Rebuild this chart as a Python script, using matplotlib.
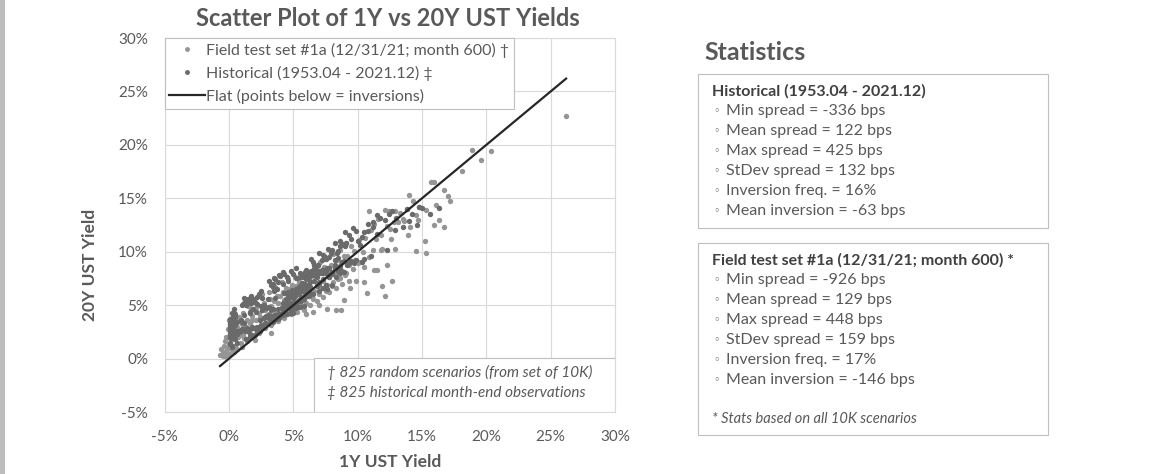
import numpy as np
import matplotlib.pyplot as plt
from matplotlib.patches import Rectangle
from matplotlib.lines import Line2D
from matplotlib.ticker import FuncFormatter

plt.rcParams['font.family'] = ['Lato', 'DejaVu Sans']

W, H = 1171, 474
GREY_TXT = '#595959'

# (1Y, 20Y) yields in %, field test scenarios
FIELD = [
    (-0.7, 0.3), (-0.5, 0.5), (-0.6, 0.9), (-0.3, 0.2), (-0.4, 1.2), (-0.2, 0.7), (-0.3, 1.6), (-0.1, 1.0),
    (-0.2, 2.0), (0.0, 0.4), (0.0, 1.4), (0.1, 2.4), (-0.1, 2.8), (0.2, 0.8), (0.2, 3.2), (0.3, 1.8),
    (0.0, 3.6), (0.4, 2.6), (0.3, 4.0), (0.5, 1.2), (0.6, 3.0), (0.5, 3.6), (0.7, 2.0), (0.8, 2.6),
    (0.9, 1.5), (1.0, 3.2), (0.8, 3.9), (1.1, 2.3), (1.2, 1.9), (1.3, 3.0),
    (0.4, 0.6), (-0.5, 0.2), (-0.2, 0.3), (0.6, 0.9), (1.0, 1.1), (0.3, 1.0),
    (1.0, 2.2), (1.2, 3.0), (1.4, 3.6), (1.1, 4.3), (1.5, 4.9), (1.5, 2.6), (1.4, 1.6),
    (1.6, 3.3), (1.8, 4.0), (1.7, 4.6), (1.8, 2.2), (2.0, 2.9), (1.6, 5.1), (1.8, 3.6),
    (2.1, 3.6), (2.3, 4.3), (2.2, 5.0), (2.3, 2.4), (2.5, 3.1), (2.1, 4.7), (2.4, 3.9),
    (2.6, 3.8), (2.8, 4.5), (2.7, 5.2), (2.8, 2.9), (3.0, 3.4), (2.6, 6.0), (3.0, 4.8),
    (3.1, 4.2), (3.3, 4.9), (3.2, 5.6), (3.3, 3.1), (3.5, 3.7), (3.1, 6.2), (3.5, 5.4),
    (3.6, 4.5), (3.8, 5.2), (3.7, 5.9), (3.8, 3.5), (4.0, 4.1), (3.6, 6.7), (4.0, 5.9),
    (4.1, 4.8), (4.3, 5.5), (4.2, 6.2), (4.3, 3.8), (4.5, 4.4), (4.1, 7.2), (4.4, 6.6),
    (4.6, 5.1), (4.8, 5.8), (4.7, 6.5), (4.8, 4.2), (5.0, 4.6), (4.6, 7.4), (4.9, 6.9),
    (5.1, 5.4), (5.3, 6.1), (5.2, 6.8), (5.3, 4.4), (5.5, 5.0), (5.1, 7.6), (5.4, 7.2),
    (5.6, 5.7), (5.8, 6.4), (5.7, 7.1), (5.8, 4.5), (6.0, 5.2), (5.6, 7.8), (5.9, 7.0),
    (6.1, 6.0), (6.3, 6.7), (6.2, 7.4), (6.3, 5.0), (6.5, 5.6), (6.1, 8.1), (6.4, 7.7),
    (6.6, 6.3), (6.8, 7.0), (6.7, 7.7), (6.8, 5.4), (7.0, 6.0), (6.6, 8.5), (6.9, 8.0),
    (7.1, 6.6), (7.3, 7.3), (7.2, 8.0), (7.3, 5.8), (7.5, 6.3), (7.1, 9.0), (7.4, 8.6),
    (7.6, 6.9), (7.8, 7.6), (7.7, 8.3), (7.8, 6.2), (8.0, 6.8), (7.6, 9.4), (7.9, 8.8),
    (8.1, 7.2), (8.3, 7.9), (8.2, 8.6), (8.3, 6.6), (8.5, 7.4), (8.1, 9.8), (8.4, 9.2),
    (8.6, 7.5), (8.8, 8.2), (8.7, 9.0), (8.8, 7.0), (9.0, 7.8), (8.6, 10.2), (8.9, 9.6),
    (9.1, 8.0), (9.3, 8.8), (9.2, 9.6), (9.3, 7.3), (9.1, 10.8), (9.5, 10.5),
    (9.6, 8.4), (9.8, 9.2), (9.7, 10.1), (10.0, 8.9), (10.1, 11.1), (10.6, 11.3),
    (10.2, 9.0), (10.4, 10.0), (10.5, 8.6), (10.9, 9.5), (10.9, 13.8), (11.0, 12.0),
    (11.2, 10.2), (11.4, 11.2), (11.3, 12.6), (11.6, 13.1), (11.8, 10.2), (11.5, 8.3), (11.9, 10.3),
    (12.1, 13.9), (12.3, 12.4), (12.5, 12.1), (12.4, 13.8), (12.9, 13.8), (12.9, 10.3), (12.3, 8.8),
    (12.7, 7.3), (11.9, 6.8), (12.1, 5.9), (12.6, 11.2), (11.8, 11.6), (12.8, 12.8),
    (10.7, 6.1), (9.9, 7.3), (10.5, 7.2), (11.3, 8.3), (8.7, 4.5), (8.3, 4.5), (7.6, 4.6), (6.5, 4.4),
    (6.0, 4.2), (3.3, 2.4), (2.0, 1.75), (7.0, 5.0), (9.4, 6.6), (8.9, 5.5),
    (13.3, 13.6), (13.8, 14.0), (14.0, 15.3), (14.3, 14.7), (13.6, 12.9), (14.5, 13.4), (14.5, 10.1),
    (15.3, 9.9), (15.2, 11.0), (15.3, 13.9), (15.9, 12.5), (16.1, 14.4), (16.3, 13.0), (16.7, 12.3),
    (15.7, 16.5), (15.9, 16.5), (16.7, 15.8), (17.0, 15.2), (17.2, 14.7), (14.8, 14.2), (13.1, 12.8),
    (13.9, 11.6), (14.7, 13.0), (13.5, 13.1), (14.1, 12.3),
    (18.1, 17.6), (18.9, 19.5), (19.6, 18.6), (20.4, 19.4), (26.2, 22.7),
]

# (1Y, 20Y) yields in %, historical month-ends 1953-2021
HIST = [
    (2.2, 3.0), (1.8, 3.0), (1.0, 2.7), (0.9, 2.6), (1.2, 2.8), (1.8, 2.9), (2.3, 3.0), (2.6, 3.0),
    (3.0, 3.2), (3.4, 3.4), (3.3, 3.6), (3.7, 3.7), (3.9, 3.8), (3.4, 3.6), (1.2, 3.3), (1.0, 3.4),
    (2.4, 3.6), (3.2, 3.8), (3.8, 4.0), (4.5, 4.2), (5.0, 4.3), (4.8, 4.3),
    (2.5, 3.1), (2.0, 2.9), (1.5, 2.8), (2.8, 3.3), (3.6, 3.8), (4.2, 4.1), (3.2, 4.0), (2.7, 3.8),
    (3.5, 4.1), (4.1, 4.3),
    (4.4, 4.2), (3.4, 4.0), (3.0, 3.9), (2.8, 3.9), (2.9, 4.0), (3.0, 4.1), (3.0, 3.9), (2.9, 3.9),
    (3.1, 4.0), (3.3, 4.0), (3.6, 4.1), (3.8, 4.2), (3.9, 4.2), (4.0, 4.2),
    (4.3, 4.3), (4.8, 4.5), (5.0, 4.6), (5.5, 4.8), (5.8, 4.9), (5.2, 4.7), (4.3, 4.6), (4.8, 5.0),
    (5.5, 5.4), (5.6, 5.4), (5.4, 5.5), (5.9, 5.8), (6.5, 6.0), (7.0, 6.3), (7.6, 6.5), (8.0, 6.9),
    (5.3, 4.8), (4.9, 5.1), (5.8, 5.6), (6.2, 5.9), (7.3, 6.6), (6.8, 6.8), (5.9, 6.5), (4.6, 6.2),
    (4.9, 6.4), (5.8, 6.6),
    (7.5, 6.9), (7.0, 7.0), (6.3, 6.7), (5.5, 6.3), (4.3, 6.1), (5.3, 6.2), (5.6, 6.4), (4.8, 6.1),
    (4.5, 6.0), (5.0, 6.1), (5.5, 6.2), (6.2, 6.9), (7.0, 7.2), (8.3, 7.6), (7.3, 7.4), (7.8, 7.6),
    (8.9, 8.1), (8.5, 8.2), (7.3, 8.0),
    (6.6, 7.3), (8.0, 7.9), (8.6, 8.0), (7.0, 8.1), (6.6, 8.4), (5.8, 7.8), (6.2, 7.7), (6.8, 7.9),
    (8.6, 8.7), (9.7, 8.9), (11.0, 9.6),
    (6.2, 8.0), (6.8, 8.2), (7.3, 8.3), (5.9, 7.9), (6.4, 8.1), (5.5, 7.6), (5.3, 7.5), (5.6, 7.6),
    (6.0, 7.7), (6.5, 7.8), (7.0, 8.0), (7.5, 8.3), (8.2, 8.5), (9.2, 8.8), (10.3, 9.0), (9.9, 9.2),
    (9.5, 9.1), (10.5, 9.3), (12.3, 10.2),
    (14.6, 12.5), (10.2, 10.6), (8.5, 10.1), (13.5, 12.3), (14.0, 12.9), (15.6, 13.5), (16.3, 14.1),
    (14.2, 13.5), (14.8, 14.2), (15.0, 14.1), (12.4, 13.5), (11.2, 12.8), (13.8, 14.0), (10.0, 11.0),
    (9.0, 10.5), (8.6, 10.5), (9.1, 10.8), (10.3, 11.4), (9.9, 11.9), (10.5, 11.8), (11.7, 13.2),
    (12.1, 13.0), (11.2, 12.3), (9.3, 11.6), (10.8, 12.6), (11.5, 13.4), (9.6, 12.2),
    (12.9, 12.0), (11.5, 11.7), (13.0, 13.2), (12.7, 13.8), (10.8, 11.9), (9.5, 11.2), (8.8, 10.7),
    (8.4, 9.9), (7.9, 9.9), (6.7, 8.4), (6.5, 9.0), (7.8, 9.5), (8.5, 9.4), (8.8, 9.0),
    (9.0, 11.8), (8.2, 10.8), (7.7, 10.3), (7.3, 9.7), (6.9, 8.8), (6.2, 7.6), (6.0, 7.7), (5.8, 7.6),
    (6.3, 8.0), (6.6, 8.8), (7.4, 9.6), (7.2, 9.2), (6.9, 8.8), (7.5, 9.3), (8.2, 9.2), (8.9, 9.1),
    (9.3, 8.9), (8.6, 8.4), (8.0, 8.1), (7.6, 7.9), (8.6, 11.0), (8.0, 10.2), (6.4, 9.3), (7.0, 9.9),
    (7.8, 8.5), (8.2, 8.8), (7.6, 8.5), (7.2, 8.3), (6.4, 8.2), (6.0, 8.3), (5.5, 8.0), (4.5, 7.6),
    (4.0, 7.7), (3.9, 7.8), (3.5, 7.5), (3.6, 7.4), (3.4, 7.0), (3.4, 6.7), (3.5, 6.3), (3.7, 6.5),
    (4.6, 7.3), (5.8, 7.7), (6.5, 7.9), (7.1, 8.0), (5.2, 8.5), (4.2, 8.1), (3.1, 7.3), (4.8, 8.2),
    (6.8, 8.3), (5.9, 8.1), (5.0, 7.9), (4.3, 7.9), (3.8, 7.2), (3.3, 6.9), (4.2, 7.0), (5.2, 7.5),
    (6.0, 7.4), (6.3, 7.2), (5.5, 6.8), (5.9, 6.8), (5.0, 6.2), (4.7, 5.8),
    (6.8, 7.6), (6.0, 6.9), (5.6, 6.6), (5.3, 6.2), (5.2, 6.5), (5.8, 7.0), (5.7, 7.1), (5.4, 6.7),
    (5.8, 6.9), (5.7, 6.5), (5.4, 6.2), (5.3, 6.0), (5.1, 5.9), (4.4, 5.4), (4.2, 5.2), (4.6, 5.6),
    (4.8, 6.0), (5.3, 6.4), (5.6, 6.6),
    (6.1, 6.3), (6.2, 6.2), (6.0, 6.0), (5.6, 5.8), (4.4, 5.6), (3.6, 5.7), (2.6, 5.7), (2.2, 5.8),
    (2.3, 6.0), (1.9, 5.6), (1.6, 5.4), (1.4, 5.2), (1.3, 5.0), (1.1, 5.1), (1.2, 5.2), (1.3, 5.3),
    (1.4, 5.4), (2.0, 5.3), (2.2, 5.1), (2.7, 5.0), (1.2, 5.7), (2.5, 6.3), (1.7, 5.9),
    (5.9, 6.1), (5.0, 5.7), (3.0, 5.6), (1.7, 5.2), (1.5, 5.6), (1.0, 5.0), (1.8, 5.4), (2.5, 4.9),
    (2.9, 4.7), (4.6, 5.0), (5.2, 5.1), (4.5, 4.8), (2.6, 4.5), (1.2, 4.1), (0.6, 3.4),
    (3.1, 4.8), (3.4, 4.6), (3.8, 4.6), (4.3, 4.9), (4.8, 5.0), (5.1, 5.3), (5.0, 5.0), (5.0, 4.9),
    (4.8, 5.2), (4.1, 4.7), (3.3, 4.5), (2.1, 4.4), (1.6, 4.4), (1.9, 4.6), (1.6, 4.3), (0.9, 3.6),
    (0.5, 3.1), (0.5, 3.9), (0.5, 4.2), (0.4, 4.3),
    (0.4, 4.6), (0.3, 4.0), (0.3, 3.8), (0.3, 4.3), (0.2, 4.3), (0.2, 3.7), (0.1, 2.9), (0.2, 2.6),
    (0.2, 2.9), (0.2, 2.5), (0.2, 2.4), (0.1, 3.2), (0.1, 3.7), (0.1, 3.4), (0.1, 3.1), (0.1, 2.8),
    (0.3, 3.5), (0.2, 3.3), (0.2, 3.0), (0.1, 2.6), (0.1, 2.3), (0.4, 2.0), (0.7, 2.6), (1.0, 2.8),
    (1.4, 2.9), (1.9, 2.9), (2.2, 2.5), (1.8, 2.1), (1.3, 1.8), (0.6, 1.5),
    (0.3, 2.3), (0.3, 2.6), (0.4, 2.7), (0.6, 2.5), (0.6, 2.3), (0.5, 1.8), (0.8, 2.5), (0.9, 2.7),
    (1.2, 2.7), (1.3, 2.6), (1.6, 2.8), (2.1, 2.8), (2.3, 3.0), (2.6, 3.0), (2.4, 2.6), (2.0, 2.2),
    (1.6, 2.3), (1.6, 2.0), (0.2, 1.2), (0.2, 1.1), (0.1, 1.4), (0.1, 1.5), (0.1, 1.9), (0.1, 2.1),
    (0.1, 2.0), (0.2, 1.9), (0.4, 2.2), (0.6, 2.3),
]

FLAT = [-0.7, 26.2]

TICKS = [-5, 0, 5, 10, 15, 20, 25, 30]

LEGEND_LABELS = ['Field test set #1a (12/31/21; month 600) \u2020',
                 'Historical (1953.04 - 2021.12) \u2021',
                 'Flat (points below = inversions)']
NOTES = ['\u2020 825 random scenarios (from set of 10K)',
         '\u2021 825 historical month-end observations']

HIST_TITLE = 'Historical (1953.04 - 2021.12)'
HIST_STATS = ['Min spread = -336 bps', 'Mean spread = 122 bps', 'Max spread = 425 bps',
              'StDev spread = 132 bps', 'Inversion freq. = 16%', 'Mean inversion = -63 bps']
FIELD_TITLE = 'Field test set #1a (12/31/21; month 600) *'
FIELD_STATS = ['Min spread = -926 bps', 'Mean spread = 129 bps', 'Max spread = 448 bps',
               'StDev spread = 159 bps', 'Inversion freq. = 17%', 'Mean inversion = -146 bps']
FIELD_FOOT = '* Stats based on all 10K scenarios'


def fx(px):
    return px / W


def fy(py):
    return 1 - py / H


field = np.array(FIELD)
hist = np.array(HIST)

fig = plt.figure(figsize=(W / 100, H / 100), dpi=100)
fig.patch.set_facecolor('white')

# axes box in pixel terms: x 164.7..615, y 38..412
ax = fig.add_axes([fx(164.7), fy(412), fx(615) - fx(164.7), fy(38) - fy(412)])
ax.set_xlim(-5, 30)
ax.set_ylim(-5, 30)
ax.set_xticks(TICKS)
ax.set_yticks(TICKS)
pct = FuncFormatter(lambda v, _: f'{v:.0f}%')
ax.xaxis.set_major_formatter(pct)
ax.yaxis.set_major_formatter(pct)
ax.tick_params(length=0, labelsize=11, labelcolor=GREY_TXT)
ax.tick_params(axis='y', pad=12)
ax.tick_params(axis='x', pad=13)
ax.grid(True, color='#d9d9d9', lw=0.8)
ax.set_axisbelow(True)
for s in ax.spines.values():
    s.set_color('#d9d9d9')
    s.set_linewidth(0.8)

ax.scatter(field[:, 0], field[:, 1], s=15, color='#959595', lw=0, zorder=2)
ax.scatter(hist[:, 0], hist[:, 1], s=15, color='#6a6a6a', lw=0, zorder=3)
ax.plot(FLAT, FLAT, color='#262626', lw=1.6, zorder=4)

handles = [
    Line2D([], [], ls='none', marker='o', ms=2.5, color='#959595'),
    Line2D([], [], ls='none', marker='o', ms=2.5, color='#6a6a6a'),
    Line2D([], [], color='#262626', lw=1.6),
]
leg = ax.legend(handles, LEGEND_LABELS, loc='upper left', bbox_to_anchor=(0, 1),
                borderaxespad=0, fancybox=False, framealpha=1, edgecolor='#bfbfbf',
                fontsize=11.5, labelcolor=GREY_TXT, handlelength=2.2, handletextpad=0.1,
                labelspacing=0.5, borderpad=0.3)
leg.get_frame().set_linewidth(0.8)
leg.set_zorder(5)

# footnote box in the lower-right corner of the plot
ax.add_patch(Rectangle((0.3316, 0), 0.6684, 0.1444, transform=ax.transAxes,
                       facecolor='white', edgecolor='#bfbfbf', lw=0.8, zorder=5))
for i, line in enumerate(NOTES):
    ax.text(0.36, 0.107 - i * 0.056, line, transform=ax.transAxes, fontsize=11,
            style='italic', color=GREY_TXT, va='center', ha='left', zorder=6)

fig.text(fx(388), fy(18), 'Scatter Plot of 1Y vs 20Y UST Yields', ha='center', va='center',
         fontsize=17, fontweight='bold', color=GREY_TXT)
fig.text(fx(390), fy(462), '1Y UST Yield', ha='center', va='center',
         fontsize=12.5, fontweight='bold', color=GREY_TXT)
fig.text(fx(90), fy(265), '20Y UST Yield', ha='center', va='center', rotation=90,
         fontsize=12.5, fontweight='bold', color=GREY_TXT)

# statistics panel
fig.text(fx(704), fy(53), 'Statistics', ha='left', va='center', fontsize=18,
         fontweight='bold', color=GREY_TXT)


def stats_box(top, bottom, title, lines, foot=None):
    fig.add_artist(Rectangle((fx(698), fy(bottom)), fx(1048) - fx(698), fy(top) - fy(bottom),
                             transform=fig.transFigure, facecolor='white',
                             edgecolor='#bfbfbf', lw=0.8))
    fig.text(fx(712), fy(top + 17), title, ha='left', va='center', fontsize=11.5,
             fontweight='bold', color='#404040')
    for i, line in enumerate(lines):
        yy = fy(top + 37 + i * 20)
        fig.text(fx(713), yy, '\u25e6', ha='left', va='center', fontsize=8,
                 color=GREY_TXT, family=['DejaVu Sans'])
        fig.text(fx(726), yy, line, ha='left', va='center', fontsize=11.5, color=GREY_TXT)
    if foot:
        fig.text(fx(712), fy(bottom - 16), foot, ha='left', va='center', fontsize=10.5,
                 style='italic', color=GREY_TXT)


stats_box(74, 228, HIST_TITLE, HIST_STATS)
stats_box(243, 435, FIELD_TITLE, FIELD_STATS, FIELD_FOOT)

# grey strip on the left edge
fig.add_artist(Rectangle((0, 0), fx(5), 1, transform=fig.transFigure,
                         facecolor='#bdbdbd', edgecolor='none'))

fig.savefig('out.png', dpi=100)
